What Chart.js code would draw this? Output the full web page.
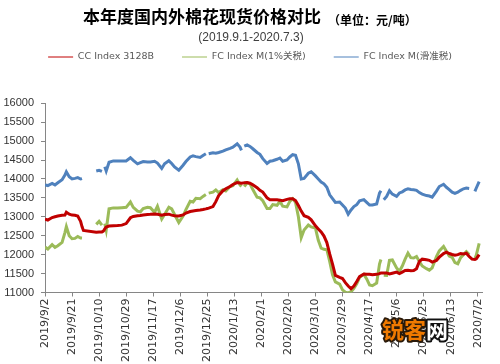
<!DOCTYPE html>
<html><head><meta charset="utf-8">
<script src="https://cdn.jsdelivr.net/npm/chart.js@4.4.0/dist/chart.umd.min.js"></script>
<style>html,body{margin:0;padding:0;background:#fff;}#wrap{width:500px;height:364px;}</style>
</head><body><div id="wrap"><canvas id="c" width="500" height="364"></canvas></div>
<script>
const titleText = '本年度国内外棉花现货价格对比';
const unitText = '（单位：元/吨）';
const subtitleText = '(2019.9.1-2020.7.3)';
const watermarkParts = ['锐客', '网'];
const seriesNames = ['CC Index 3128B', 'FC Index M(1%关税)', 'FC Index M(滑准税)'];

// x tick positions (days since 2019/9/2) and their labels
const tickDays = [0,19,38,57,76,95,114,133,152,171,190,209,228,247,266,285,304];
const tickLabels = ['2019/9/2','2019/9/21','2019/10/10','2019/10/29','2019/11/17','2019/12/6','2019/12/25','2020/1/13','2020/2/1','2020/2/20','2020/3/10','2020/3/29','2020/4/17','2020/5/6','2020/5/25','2020/6/13','2020/7/2'];

// sample days (days since 2019/9/2)
const days = [
  0,2,5,7,9,12,14,15,17,19,
  21,23,25,26,27,36,38,40,41,42,
  43,45,48,51,54,57,60,62,65,67,
  69,72,74,77,79,82,84,87,89,91,
  94,97,99,102,104,106,109,111,113,114,
  115,118,120,122,125,127,130,132,135,137,
  138,139,140,142,144,146,149,151,153,156,
  158,160,163,165,167,170,172,174,176,178,
  180,182,185,187,190,192,194,196,198,200,
  202,204,207,209,211,213,215,217,219,221,
  224,226,228,230,233,235,236,237,238,240,
  242,244,247,249,251,253,255,257,259,261,
  263,265,268,270,272,275,277,280,282,284,
  286,288,290,292,294,296,298,300,302,303,
  305];

const ccIndex = [
  12940,12915,12980,13000,13020,13040,13045,13120,13070,13045,
  13040,13020,12880,12740,12640,12590,12600,12600,12620,12680,
  12730,12755,12765,12770,12780,12820,12975,13010,13030,13036,
  13050,13062,13065,13075,13065,13040,13060,13070,13045,13030,
  13020,13050,13100,13140,13155,13165,13180,13192,13210,13220,
  13230,13270,13400,13560,13690,13740,13800,13855,13905,13895,
  13886,13890,13900,13904,13886,13845,13770,13700,13655,13500,
  13452,13452,13450,13440,13426,13460,13478,13478,13430,13300,
  13150,13030,12985,12920,12760,12680,12600,12490,12320,12020,
  11750,11450,11400,11370,11260,11170,11100,11170,11290,11420,
  11490,11482,11482,11470,11480,11500,11517,11517,11517,11517,
  11490,11510,11540,11500,11540,11580,11586,11575,11580,11630,
  11820,11880,11864,11850,11805,11847,11933,12030,12064,12030,
  12003,11985,12000,12030,12020,12037,11950,11880,11870,11890,
  12000];

const fcIndex1 = [
  12200,12150,12263,12194,12237,12324,12584,12740,12500,12420,
  12430,12480,12440,12437,null,12800,12880,12780,null,12820,
  12650,13210,13235,13230,13240,13250,13390,13250,13148,13131,
  13218,13253,13240,13120,13279,12940,13062,13253,13210,13062,
  12850,13018,13192,13409,13391,13490,13480,13539,13590,null,
  13626,13652,13710,13640,13713,13680,13799,13820,13973,13843,
  13799,null,13799,13900,13870,13720,13520,13500,13426,13218,
  13218,13322,13305,13409,13279,13260,13409,13478,13380,13000,
  12450,12650,12784,12732,12700,12380,12170,12140,12130,11820,
  11470,11280,11220,11070,11010,10990,11020,11110,11230,11400,
  11480,11360,11200,11180,11250,11750,11870,null,11456,11450,
  11850,11860,11650,11560,11700,11880,12040,11920,11910,11950,
  11820,11700,11630,11590,11650,11950,12100,12215,12090,11960,
  11930,11790,11760,11920,12000,12080,12000,null,11890,11990,
  12300];

const fcIndexSliding = [
  13843,13825,13880,13843,13900,13980,14100,14190,14060,14000,
  14016,14034,13999,14010,null,14210,14230,14200,null,14320,
  14210,14440,14476,14476,14476,14476,14560,14490,14400,14430,
  14460,14450,14450,14468,14420,14277,14400,14480,14410,14320,
  14233,14364,14460,14581,14610,14590,14570,14620,14667,null,
  14667,14693,14680,14700,14735,14770,14810,14840,14928,14841,
  14754,null,14867,14900,14860,14798,14700,14650,14537,14410,
  14468,14480,14520,14554,14468,14500,14581,14641,14624,14400,
  14000,14016,14150,14190,14080,14000,13920,13870,13780,13580,
  13480,13380,13390,13310,13230,13070,13180,13270,13320,13420,
  13453,13380,13310,13310,13340,13626,13687,null,13453,13540,
  13690,13600,13540,13630,13660,13710,13740,13720,13713,13700,
  13640,13600,13560,13550,13520,13680,13800,13860,13780,13720,
  13650,13620,13650,13700,13740,13760,13750,null,13670,13760,
  13930];

const seriesColors = ['#C00000', '#9BBB59', '#4F81BD'];

function toPoints(vals) { return days.map((d, i) => ({ x: d, y: vals[i] })); }

const headerPlugin = {
  id: 'header',
  afterDraw(chart) {
    const ctx = chart.ctx;
    ctx.save();
    ctx.textBaseline = 'middle';
    ctx.textAlign = 'left';
    ctx.fillStyle = '#000';
    ctx.font = 'bold 17px "Noto Sans CJK SC"';
    ctx.fillText(titleText, 83, 17);
    ctx.font = 'bold 12px "Noto Sans CJK SC"';
    ctx.fillText(unitText, 328, 20);
    ctx.font = '12px "Liberation Sans"';
    ctx.fillStyle = '#404040';
    ctx.textAlign = 'center';
    ctx.fillText(subtitleText, 251, 38);
    // watermark
    ctx.textAlign = 'left';
    ctx.font = 'bold 22px "Noto Sans CJK SC"';
    ctx.lineJoin = 'round';
    ctx.lineWidth = 4;
    ctx.strokeStyle = '#2a1a0a';
    ctx.strokeText(watermarkParts[0], 382, 330);
    ctx.fillStyle = '#F07A00';
    ctx.fillText(watermarkParts[0], 382, 330);
    ctx.strokeStyle = '#111';
    ctx.strokeText(watermarkParts[1], 426, 330);
    ctx.fillStyle = '#fff';
    ctx.fillText(watermarkParts[1], 426, 330);
    ctx.restore();
  }
};

new Chart(document.getElementById('c'), {
  type: 'line',
  data: {
    datasets: [
      { label: seriesNames[0], data: toPoints(ccIndex), borderColor: seriesColors[0], backgroundColor: seriesColors[0] },
      { label: seriesNames[1], data: toPoints(fcIndex1), borderColor: seriesColors[1], backgroundColor: seriesColors[1] },
      { label: seriesNames[2], data: toPoints(fcIndexSliding), borderColor: seriesColors[2], backgroundColor: seriesColors[2] }
    ]
  },
  options: {
    responsive: false,
    animation: false,
    devicePixelRatio: 1,
    spanGaps: false,
    elements: { line: { borderWidth: 3, tension: 0 }, point: { radius: 0 } },
    layout: { padding: { left: 0, right: 0, top: 24.25, bottom: 0 } },
    plugins: {
      legend: {
        display: true, position: 'top',
        labels: {
          usePointStyle: true, pointStyle: 'line', pointStyleWidth: 25,
          padding: 28, color: '#595959',
          font: { family: '"DejaVu Sans", "Noto Sans CJK SC"', size: 9.5 }
        }
      },
      title: { display: true, text: '', weight: 500, padding: { top: 19.5, bottom: 0 }, font: { size: 10 } },
      tooltip: { enabled: false }
    },
    scales: {
      x: {
        type: 'linear', min: 0, max: 307,
        afterFit(s) { s.height = 71.5; },
        afterBuildTicks(s) { s.ticks = tickDays.map(v => ({ value: v })); },
        ticks: {
          autoSkip: false, maxRotation: 90, minRotation: 90, padding: 2,
          color: '#333', font: { family: '"DejaVu Sans"', size: 11 },
          callback: (v) => { const i = tickDays.indexOf(v); return i >= 0 ? tickLabels[i] : ''; }
        },
        grid: { drawOnChartArea: false, drawTicks: true, tickLength: 4, color: '#868686' },
        border: { color: '#868686' }
      },
      y: {
        min: 11000, max: 16000,
        afterFit(s) { s.width = 45; },
        ticks: {
          stepSize: 500, padding: 7, color: '#333',
          font: { family: '"Liberation Sans", Arial', size: 11 },
          callback: (v) => String(v)
        },
        grid: { drawOnChartArea: false, drawTicks: true, tickLength: 4, color: '#868686' },
        border: { color: '#868686' }
      },
      yRight: {
        position: 'right', display: true,
        afterFit(s) { s.width = 18; },
        ticks: { display: false },
        grid: { display: false, drawTicks: false },
        border: { display: false }
      }
    }
  },
  plugins: [headerPlugin]
});
</script>
</body></html>
